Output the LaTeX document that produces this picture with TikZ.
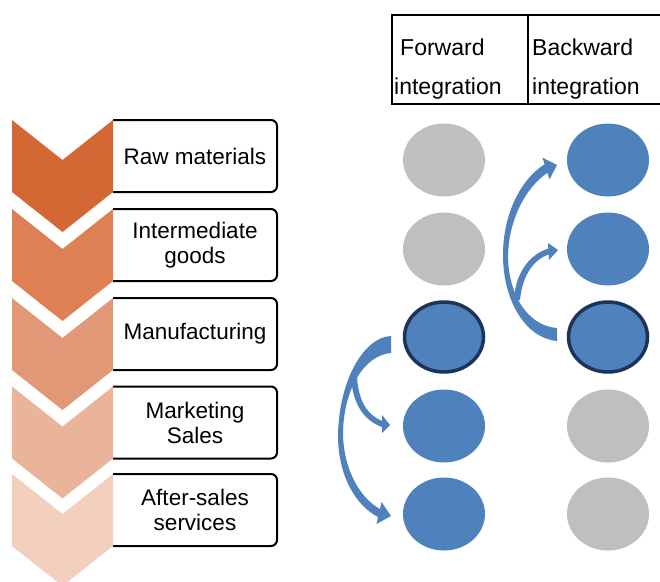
\documentclass[tikz,border=0pt]{standalone}
\usepackage{fontspec}
\setmainfont{Liberation Sans}
\usetikzlibrary{shapes.geometric}
\definecolor{ch1}{RGB}{211,104,52}
\definecolor{ch2}{RGB}{222,128,84}
\definecolor{ch3}{RGB}{226,152,118}
\definecolor{ch4}{RGB}{234,180,155}
\definecolor{ch5}{RGB}{243,207,189}
\definecolor{cblue}{RGB}{79,129,189}
\definecolor{cgray}{RGB}{191,191,191}
\definecolor{cdark}{RGB}{28,52,88}
\tikzset{
  boxtext/.style={align=center, font=\fontsize{22.5}{25}\selectfont, inner sep=0pt},
  boxline/.style={draw=black, line width=2pt, rounded corners=6pt},
  headtext/.style={anchor=base west, font=\fontsize{23}{26}\selectfont, inner sep=0pt},
  disc/.style={ellipse, minimum width=82pt, minimum height=73pt, inner sep=0pt},
  graydisc/.style={disc, fill=cgray},
  bluedisc/.style={disc, fill=cblue},
  darkdisc/.style={disc, fill=cblue, draw=cdark, line width=3.5pt, minimum width=79pt, minimum height=70pt},
  blockarrow/.style={fill=cblue, draw=none}
}
\begin{document}
\begin{tikzpicture}[x=1pt,y=-1pt]
\useasboundingbox (0,0) rectangle (660,581);
% table header
\draw[line width=2pt] (660,15) -- (392,15) -- (392,104) -- (660,104);
\draw[line width=2pt] (528,15) -- (528,104);
\node[headtext] (fw1) at (400,55) {Forward};
\node[headtext] (fw2) at (394,94) {integration};
\node[headtext] (bw1) at (532,55) {Backward};
\node[headtext] (bw2) at (532,94) {integration};
% boxes and chevrons
\foreach \t/\c/\n/\txt in {120/ch1/b1/{Raw materials},209/ch2/b2/{Intermediate\\goods},298/ch3/b3/{Manufacturing},386.5/ch4/b4/{Marketing\\Sales},474/ch5/b5/{After-sales\\services}}{
  \draw[boxline] (113,\t) -- (277,\t) -- (277,\t+72) -- (113,\t+72);
  \fill[\c] (12,\t) -- (62.5,\t+40) -- (113,\t) -- (113,\t+72) -- (62.5,\t+112) -- (12,\t+72) -- cycle;
  \node[boxtext] (\n) at (195,\t+36) {\txt};
}
% circles
\node[graydisc] (f1) at (444,160) {};
\node[graydisc] (f2) at (444,249) {};
\node[darkdisc] (f3) at (444,337) {};
\node[bluedisc] (f4) at (444,426) {};
\node[bluedisc] (f5) at (444,514) {};
\node[bluedisc] (k1) at (608,160) {};
\node[bluedisc] (k2) at (608,249) {};
\node[darkdisc] (k3) at (608,337) {};
\node[graydisc] (k4) at (608,426) {};
\node[graydisc] (k5) at (608,514) {};
% forward arrows
\fill[blockarrow] (351,375) .. controls (352,405) and (365,421) .. (382,427) -- (382,433) -- (390,425) -- (382,415) -- (382,421) .. controls (368,415) and (358,402) .. (357,375) -- cycle;
\fill[blockarrow] (391,336) .. controls (364,337) and (339,380) .. (338,435) .. controls (338,475) and (355,505) .. (378,517) -- (376.5,524) -- (391,516) -- (381.5,502) -- (380,509) .. controls (360,498) and (344,470) .. (343,435) .. controls (343,390) and (364,355) .. (391,353) -- cycle;
% backward arrows
\fill[blockarrow] (514,300) .. controls (515,275) and (528,255) .. (548.3,248.5) -- (548,243) -- (558,250) -- (549,260) -- (548.7,254.5) .. controls (532,260) and (522,278) .. (520,300) -- cycle;
\fill[blockarrow] (557,341) .. controls (525,338) and (503,300) .. (503,255) .. controls (503,215) and (520,180) .. (544.6,164.2) -- (542.5,157.6) -- (557,165) -- (549.5,179.4) -- (547.4,172.8) .. controls (525,188) and (509,220) .. (508,255) .. controls (508,295) and (528,326) .. (557,328) -- cycle;
\end{tikzpicture}
\end{document}
